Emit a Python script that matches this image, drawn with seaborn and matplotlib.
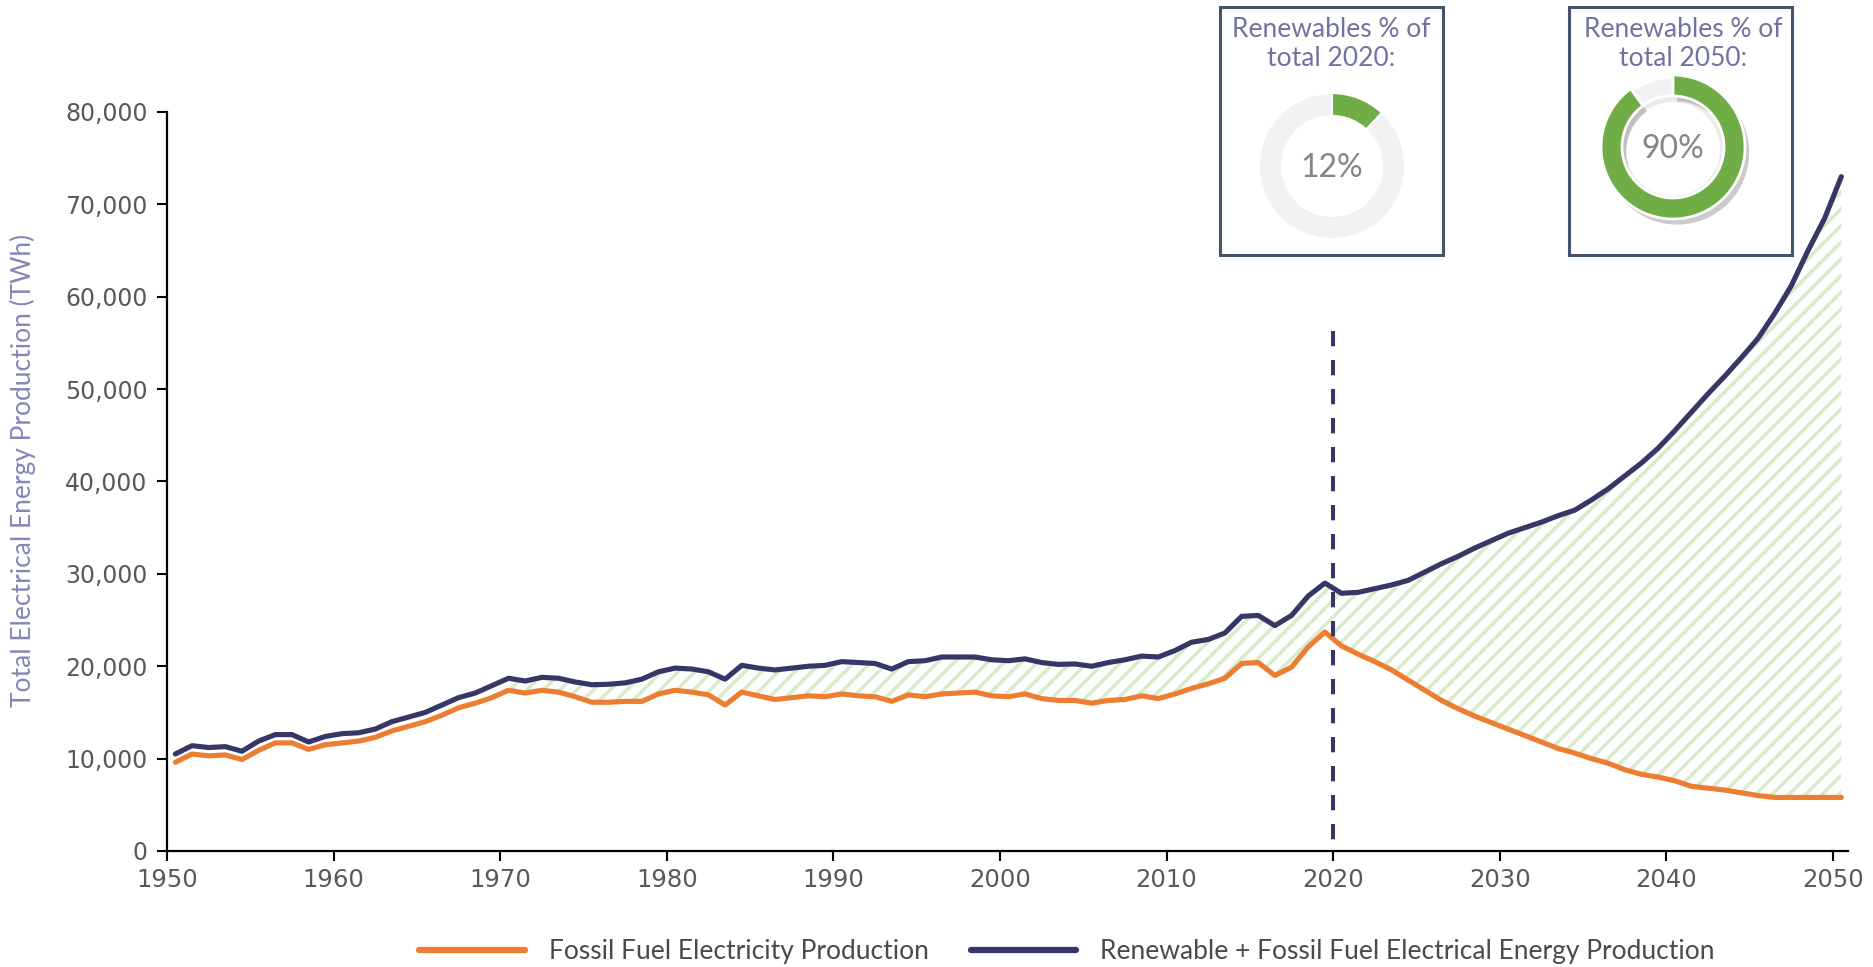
import numpy as np
import pandas as pd
import matplotlib
matplotlib.use("Agg")
import matplotlib.pyplot as plt
import matplotlib.patheffects as pe
from matplotlib.patches import Rectangle, Wedge
from matplotlib.lines import Line2D
import seaborn as sns

# ---- data (thousand TWh) ----
years = np.arange(1950, 2051)
fossil = [
    9.6, 10.5, 10.3, 10.4, 9.9, 10.9, 11.7, 11.7, 11.0, 11.5,
    11.7, 11.9, 12.3, 13.0, 13.5, 14.0, 14.7, 15.5, 16.0, 16.6,
    17.4, 17.1, 17.4, 17.2, 16.7, 16.1, 16.1, 16.2, 16.2, 17.0,
    17.4, 17.2, 16.9, 15.8, 17.2, 16.8, 16.4, 16.6, 16.8, 16.7,
    17.0, 16.8, 16.7, 16.2, 16.9, 16.7, 17.0, 17.1, 17.2, 16.8,
    16.7, 17.0, 16.5, 16.3, 16.3, 16.0, 16.3, 16.4, 16.8, 16.5,
    17.0, 17.6, 18.1, 18.7, 20.3, 20.4, 19.0, 19.9, 22.1, 23.7,
    22.2, 21.3, 20.5, 19.6, 18.5, 17.4, 16.3, 15.4, 14.6, 13.9,
    13.2, 12.5, 11.8, 11.1, 10.6, 10.0, 9.5, 8.8, 8.3, 8.0,
    7.6, 7.0, 6.8, 6.6, 6.3, 6.0, 5.8, 5.8, 5.8, 5.8,
    5.8,
]
total = [
    10.5, 11.4, 11.2, 11.3, 10.8, 11.9, 12.6, 12.6, 11.8, 12.4,
    12.7, 12.8, 13.2, 14.0, 14.5, 15.0, 15.8, 16.6, 17.1, 17.9,
    18.7, 18.4, 18.8, 18.7, 18.3, 18.0, 18.05, 18.2, 18.6, 19.4,
    19.8, 19.7, 19.4, 18.6, 20.1, 19.8, 19.6, 19.8, 20.0, 20.1,
    20.5, 20.4, 20.3, 19.7, 20.5, 20.6, 21.0, 21.0, 21.0, 20.7,
    20.6, 20.8, 20.4, 20.2, 20.25, 20.0, 20.4, 20.7, 21.1, 21.0,
    21.7, 22.6, 22.9, 23.6, 25.4, 25.5, 24.4, 25.5, 27.6, 29.0,
    27.9, 28.0, 28.4, 28.8, 29.3, 30.2, 31.1, 31.9, 32.8, 33.6,
    34.4, 35.0, 35.6, 36.3, 36.9, 38.0, 39.2, 40.6, 42.0, 43.6,
    45.5, 47.5, 49.5, 51.4, 53.4, 55.5, 58.2, 61.2, 65.0, 68.5,
    73.0,
]
marker_year = 2020
marker_top = 56300
share_titles = ["Renewables % of\ntotal 2020:", "Renewables % of\ntotal 2050:"]
share_values = [12, 90]
x_ticks = list(range(1950, 2051, 10))
y_ticks = list(range(0, 80001, 10000))
legend_labels = ["Fossil Fuel Electricity Production",
                 "Renewable + Fossil Fuel Electrical Energy Production"]

ORANGE = "#ed7d31"
NAVY = "#363667"
GREEN = "#70ad47"
LIGHT = "#f2f2f2"

sns.set_theme(style="white")
plt.rcParams["font.family"] = ["Lato", "DejaVu Sans"]
plt.rcParams["hatch.linewidth"] = 2.6

W, H = 1873, 967
fig = plt.figure(figsize=(W / 100, H / 100), dpi=100)
ax = fig.add_axes([167 / W, 1 - 851 / H, (1848 - 167) / W, (851 - 112) / H])

df = pd.DataFrame({
    "year": years + 0.5,  # annual values drawn at mid-year
    "fossil": np.array(fossil) * 1000,
    "total": np.array(total) * 1000,
})

# renewable share as hatched band between the two series
ax.fill_between(df["year"], df["fossil"], df["total"], where=df["year"] >= 1970,
                facecolor="none", edgecolor="#d9ebca", hatch="//", linewidth=0,
                interpolate=True, zorder=1)
sns.lineplot(data=df, x="year", y="fossil", color=ORANGE, lw=3.7, ax=ax, zorder=3)
sns.lineplot(data=df, x="year", y="total", color=NAVY, lw=3.7, ax=ax, zorder=3)
# dashed marker for the present year, dashes starting from the top
ax.plot([marker_year, marker_year], [marker_top, 0], color=NAVY, lw=2.9,
        ls=(0, (3.8, 3.4)), zorder=4, clip_on=False)

ax.set_xlim(1950, 2050.9)
ax.set_ylim(0, 80000)
ax.set_xticks(x_ticks)
ax.set_xticklabels([str(t) for t in x_ticks], fontsize=17.5, color="#595959",
                   fontfamily="DejaVu Sans")
ax.set_yticks(y_ticks)
ax.set_yticklabels([f"{t:,}" for t in y_ticks], fontsize=17, color="#595959",
                   fontfamily="DejaVu Sans")
ax.tick_params(axis="both", direction="out", length=7, width=1.5, color="black",
               bottom=True, left=True)
ax.tick_params(axis="x", pad=5)
ax.tick_params(axis="y", pad=7)
ax.set_xlabel("")
ax.set_ylabel("Total Electrical Energy Production (TWh)", fontsize=19,
              color="#8585b8")
ax.yaxis.set_label_coords(-0.078, 0.515)
sns.despine(ax=ax)
for s in ("left", "bottom"):
    ax.spines[s].set_color("black")
    ax.spines[s].set_linewidth(1.6)

# legend
handles = [Line2D([], [], color=ORANGE, lw=4.5), Line2D([], [], color=NAVY, lw=4.5)]
fig.legend(handles, legend_labels, loc="center", bbox_to_anchor=(1067 / W, 1 - 952 / H),
           ncol=2, frameon=False, handlelength=4.0, handletextpad=0.9,
           columnspacing=1.6, labelcolor="#4a4a4a", prop={"size": 19})

# share panels
boxes = [(1220, 1443), (1569, 1792)]
centers = [(1332, 166), (1673, 147)]
for i, ((bx0, bx1), (cx, cy), title, val) in enumerate(zip(boxes, centers, share_titles, share_values)):
    fig.add_artist(Rectangle((bx0 / W, 1 - 255 / H), (bx1 - bx0) / W, (255 - 7) / H,
                             transform=fig.transFigure, fill=False,
                             edgecolor="#44546a", lw=2.2, zorder=5))
    fig.text((bx0 + bx1) / 2 / W + (3 / W if i else 0), 1 - 44 / H, title,
             ha="center", va="center", fontsize=19, color="#7272a2",
             linespacing=1.2)
    side = 200
    pax = fig.add_axes([(cx - side / 2) / W, 1 - (cy + side / 2) / H, side / W, side / H])
    pax.axis("off")
    if i == 0:
        pax.pie([val, 100 - val], radius=0.73, startangle=90,
                counterclock=False, colors=[GREEN, LIGHT],
                wedgeprops=dict(width=0.23, edgecolor="white", linewidth=1.5))
    else:
        # drop-shadowed ring for the 2050 projection
        pax.add_patch(Wedge((0, -0.02), 0.52, 0, 360, width=0.05, facecolor="#ebebeb",
                            edgecolor="none"))
        pax.pie([val, 100 - val], radius=0.68, startangle=90, counterclock=False,
                colors=["none", LIGHT],
                wedgeprops=dict(width=0.15, edgecolor="none"))
        wedges, _ = pax.pie([val, 100 - val], radius=0.72, startangle=90,
                            counterclock=False, colors=[GREEN, "none"],
                            wedgeprops=dict(width=0.21, linewidth=2))
        wedges[0].set_edgecolor("white")
        wedges[1].set_edgecolor("none")
        wedges[0].set_path_effects([pe.SimplePatchShadow(offset=(3, -4),
                                                         shadow_rgbFace="#8c8c8c",
                                                         alpha=0.45),
                                    pe.Normal()])
    pax.set_xlim(-1, 1)
    pax.set_ylim(-1, 1)
    pax.set_aspect("equal")
    pax.text(0, -0.02, f"{val}%", ha="center", va="center", fontsize=23,
             color="#858585")

fig.savefig("out.png", dpi=100)
